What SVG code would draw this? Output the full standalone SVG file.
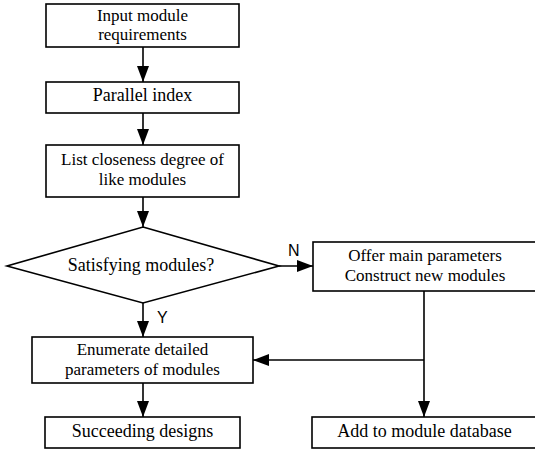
<svg xmlns="http://www.w3.org/2000/svg" width="535" height="449" viewBox="0 0 535 449">
<defs>
<marker id="arr" viewBox="0 0 16 12" refX="16" refY="6" markerWidth="16" markerHeight="12" markerUnits="userSpaceOnUse" orient="auto">
<path d="M0,0 L16,6 L0,12 Z" fill="#000"/>
</marker>
<style>
.box{fill:#fff;stroke:#000;stroke-width:1.6}
.t{font-family:"Liberation Serif","Times New Roman",serif;font-size:18px;text-anchor:middle;fill:#000}
.m{font-size:17px}
.lbl{font-family:"Liberation Sans",Arial,sans-serif;font-size:16px;fill:#000}
.c{fill:none;stroke:#000;stroke-width:1.6}
</style>
</defs>
<rect width="535" height="449" fill="#fff"/>
<g id="connectors">
<line class="c" x1="143" y1="47" x2="143" y2="82" marker-end="url(#arr)"/>
<line class="c" x1="143" y1="113" x2="143" y2="145" marker-end="url(#arr)"/>
<line class="c" x1="143" y1="197" x2="143" y2="227" marker-end="url(#arr)"/>
<line class="c" x1="279" y1="266" x2="313" y2="266" marker-end="url(#arr)"/>
<line class="c" x1="143" y1="303" x2="143" y2="337" marker-end="url(#arr)"/>
<line class="c" x1="143" y1="383" x2="143" y2="417" marker-end="url(#arr)"/>
<line class="c" x1="424" y1="291" x2="424" y2="417" marker-end="url(#arr)"/>
<line class="c" x1="424" y1="360" x2="253" y2="360" marker-end="url(#arr)"/>
<text class="lbl" x="288" y="256">N</text>
<text class="lbl" x="157" y="323">Y</text>
</g>
<g id="n1">
<rect class="box" x="46" y="4" width="193" height="43"/>
<text class="t m" x="142.5" y="20.5">Input module</text>
<text class="t m" x="142.5" y="40.1">requirements</text>
</g>
<g id="n2">
<rect class="box" x="46" y="82" width="193" height="31"/>
<text class="t" x="142.5" y="101">Parallel index</text>
</g>
<g id="n3">
<rect class="box" x="46" y="145" width="193" height="52"/>
<text class="t m" x="142.5" y="165">List closeness degree of</text>
<text class="t m" x="142.5" y="184.6">like modules</text>
</g>
<g id="n4">
<polygon class="box" points="143,227 279,266 143,303 7,266"/>
<text class="t" x="141" y="271">Satisfying modules?</text>
</g>
<g id="n5">
<rect class="box" x="313" y="242" width="224" height="49"/>
<text class="t m" x="425" y="261">Offer main parameters</text>
<text class="t m" x="425" y="280.6">Construct new modules</text>
</g>
<g id="n6">
<rect class="box" x="32" y="337" width="221" height="46"/>
<text class="t m" x="142.5" y="355">Enumerate detailed</text>
<text class="t m" x="142.5" y="374.6">parameters of modules</text>
</g>
<g id="n7">
<rect class="box" x="45" y="417" width="195" height="31"/>
<text class="t" x="142.5" y="437">Succeeding designs</text>
</g>
<g id="n8">
<rect class="box" x="312" y="417" width="225" height="31"/>
<text class="t" x="424.5" y="437">Add to module database</text>
</g>
</svg>
